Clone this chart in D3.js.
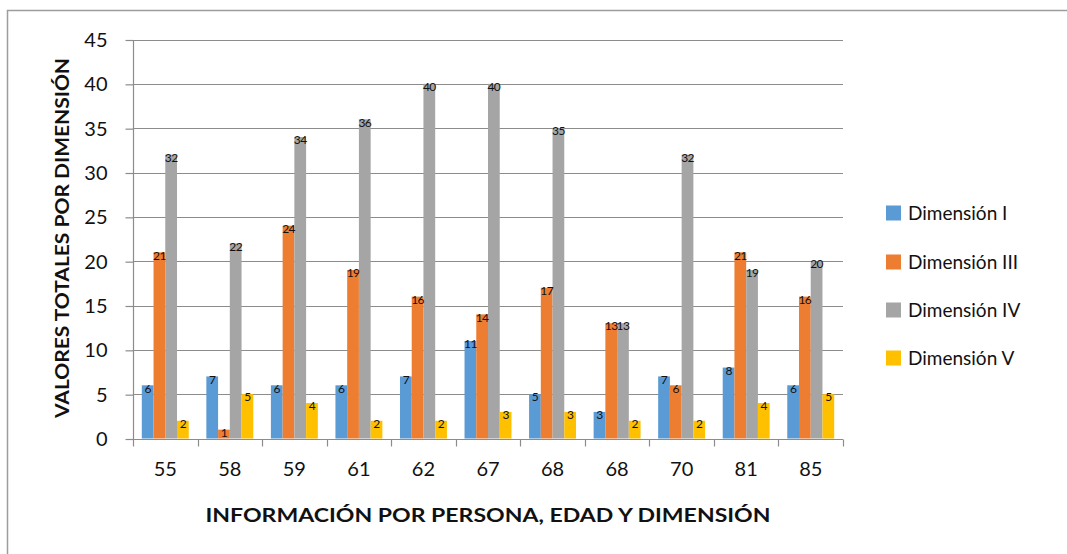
<!DOCTYPE html>
<html>
<head>
<meta charset="utf-8">
<script src="https://cdn.jsdelivr.net/npm/d3@7"></script>
<style>
  html, body { margin: 0; padding: 0; background: #fff; }
  svg { display: block; }
  text { font-family: Lato, "Noto Sans", sans-serif; fill: #111; }
</style>
</head>
<body>
<script>
// Ages of each person (x categories; "68" appears twice)
const ages = ["55", "58", "59", "61", "62", "67", "68", "68", "70", "81", "85"];
const seriesNames = ["Dimensión I", "Dimensión III", "Dimensión IV", "Dimensión V"];
const dimI   = [6, 7, 6, 6, 7, 11, 5, 3, 7, 8, 6];
const dimIII = [21, 1, 24, 19, 16, 14, 17, 13, 6, 21, 16];
const dimIV  = [32, 22, 34, 36, 40, 40, 35, 13, 32, 19, 20];
const dimV   = [2, 5, 4, 2, 2, 3, 3, 2, 2, 4, 5];
const yTicks = [0, 5, 10, 15, 20, 25, 30, 35, 40, 45];
const colors = ["#5b9bd5", "#ed7d31", "#a5a5a5", "#ffc000"];

const series = [dimI, dimIII, dimIV, dimV];
const W = 1067, H = 554;
const svg = d3.select("body").append("svg").attr("width", W).attr("height", H);

// outer chart frame
svg.append("rect")
  .attr("x", 7.5).attr("y", 10.5)
  .attr("width", W + 10).attr("height", H + 10)
  .attr("fill", "#fff").attr("stroke", "#9d9d9d").attr("stroke-width", 1.5);

const plot = { left: 133, right: 843, top: 39.5, bottom: 438.5 };

const x = d3.scaleBand().domain(d3.range(ages.length)).range([plot.left, plot.right]).padding(0);
const xs = d3.scaleBand().domain(d3.range(series.length)).range([0, x.bandwidth()])
  .paddingInner(0).paddingOuter(0.75);
const y = d3.scaleLinear().domain([0, 45]).range([plot.bottom, plot.top]);

// horizontal gridlines
svg.append("g").selectAll("line").data(yTicks.filter(t => t > 0)).join("line")
  .attr("x1", plot.left).attr("x2", plot.right)
  .attr("y1", d => Math.round(y(d)) + 0.5).attr("y2", d => Math.round(y(d)) + 0.5)
  .attr("stroke", "#8c8c8c").attr("stroke-width", 1.2);

// bars
series.forEach((vals, si) => {
  svg.append("g").selectAll("rect").data(vals).join("rect")
    .attr("x", (d, i) => x(i) + xs(si))
    .attr("width", xs.bandwidth())
    .attr("y", d => y(d))
    .attr("height", d => y(0) - y(d))
    .attr("fill", colors[si]);
});

// y axis
const yAxis = d3.axisLeft(y).tickValues(yTicks).tickSize(8).tickPadding(18);
const gy = svg.append("g").attr("transform", `translate(${plot.left + 0.5},0.5)`).call(yAxis);
gy.select(".domain").attr("stroke", "#8c8c8c").attr("stroke-width", 1.2).attr("d", `M0,${plot.top}V${plot.bottom}`);
gy.selectAll(".tick line").attr("stroke", "#8c8c8c").attr("stroke-width", 1.2);
gy.selectAll(".tick text").attr("font-size", 20).attr("fill", "#111")
  .attr("font-family", "Lato, 'Noto Sans', sans-serif");

// x axis (ticks at category boundaries)
const gx = svg.append("g").attr("transform", `translate(0,${Math.round(y(0)) + 0.5})`);
gx.append("line").attr("x1", plot.left).attr("x2", plot.right)
  .attr("stroke", "#8c8c8c").attr("stroke-width", 1.2);
const bounds = d3.range(ages.length + 1).map(i => i < ages.length ? x(i) : plot.right);
gx.selectAll("line.tk").data(bounds).join("line").attr("class", "tk")
  .attr("x1", d => Math.round(d) + 0.5).attr("x2", d => Math.round(d) + 0.5)
  .attr("y1", 0).attr("y2", 7)
  .attr("stroke", "#8c8c8c").attr("stroke-width", 1.2);
gx.selectAll("text").data(ages).join("text")
  .attr("x", (d, i) => x(i) + x.bandwidth() / 2)
  .attr("y", 36)
  .attr("text-anchor", "middle")
  .attr("font-size", 20)
  .text(d => d);

// value labels at the top of each bar
series.forEach((vals, si) => {
  svg.append("g").selectAll("text").data(vals).join("text")
    .attr("x", (d, i) => x(i) + xs(si) + xs.bandwidth() / 2)
    .attr("y", d => y(d) + 3)
    .attr("dy", "0.35em")
    .attr("text-anchor", "middle")
    .attr("font-size", 12)
    .attr("letter-spacing", "-0.6")
    .attr("fill", "#222")
    .text(d => d);
});

// axis titles
svg.append("text")
  .attr("transform", `translate(69,238) rotate(-90)`)
  .attr("text-anchor", "middle")
  .attr("font-size", 19).attr("font-weight", "bold")
  .attr("textLength", 360).attr("lengthAdjust", "spacingAndGlyphs")
  .text("VALORES TOTALES POR DIMENSIÓN");

svg.append("text")
  .attr("x", 488).attr("y", 522)
  .attr("text-anchor", "middle")
  .attr("font-size", 19).attr("font-weight", "bold")
  .attr("textLength", 565).attr("lengthAdjust", "spacingAndGlyphs")
  .text("INFORMACIÓN POR PERSONA, EDAD Y DIMENSIÓN");

// legend
const legendY = [213, 262, 310, 358];
const lg = svg.append("g").selectAll("g").data(seriesNames).join("g")
  .attr("transform", (d, i) => `translate(886,${legendY[i]})`);
lg.append("rect").attr("x", 0).attr("y", -7.5).attr("width", 15).attr("height", 15)
  .attr("fill", (d, i) => colors[i]);
lg.append("text").attr("x", 22).attr("dy", "0.35em").attr("font-size", 19).text(d => d);
</script>
</body>
</html>
